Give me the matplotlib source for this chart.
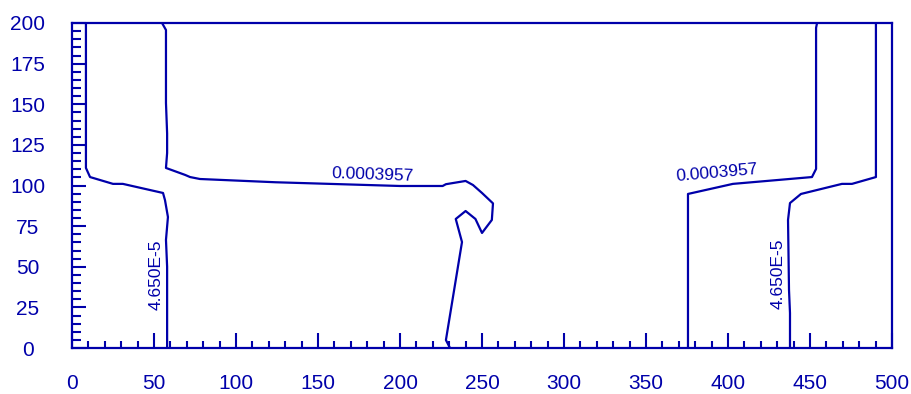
import matplotlib
matplotlib.use("Agg")
import matplotlib.pyplot as plt
from matplotlib.ticker import MultipleLocator

# contour lines (data coordinates)
line_a_x = [8.5, 8.5, 11, 25, 31, 55.5, 56.7, 58.5, 57.3, 58, 58]
line_a_y = [200, 110.8, 105.2, 101, 101, 95.4, 91, 80.6, 66.5, 50, 0]

line_b_x = [54.9, 57.3, 57.3, 58, 58, 57.3, 69, 72, 78, 124, 200, 226, 228, 240,
            244.5, 250, 256.7, 256, 250, 246, 240, 234, 237.8, 228, 230.5]
line_b_y = [200, 195.7, 150.8, 132, 120, 110.8, 106.5, 105.2, 104, 102, 99.7, 99.7,
            100.8, 102.8, 100.3, 95.4, 89, 78.8, 70.8, 79.4, 84.3, 79.4, 65.2, 4.9, 0]

line_c_x = [375.6, 375.6, 403, 451.2, 453.7, 453.7, 454.3]
line_c_y = [0, 94.8, 101, 105.2, 110.2, 197, 200]

line_d_x = [437.8, 437.8, 437.2, 436.6, 437.8, 444.5, 469.5, 475.6, 490.2, 490.2]
line_d_y = [0, 21.5, 35.7, 78.8, 89.2, 94.8, 101, 101, 105.2, 200]

labels = ["4.650E-5", "0.0003957", "0.0003957", "4.650E-5"]
label_x = [51, 183, 393, 430.5]
label_y = [45, 106.5, 107.7, 45.5]
label_rot = [90, -2, 5, 90]

xticks = list(range(0, 501, 50))
yticks = list(range(0, 201, 25))

blue = "#0000AA"
plt.rcParams["font.family"] = ["Liberation Sans", "DejaVu Sans"]

fig = plt.figure(figsize=(9.12, 3.94), dpi=100)
ax = fig.add_axes([72 / 912, 46 / 394, 820 / 912, 325 / 394])

for xs, ys in [(line_a_x, line_a_y), (line_b_x, line_b_y),
               (line_c_x, line_c_y), (line_d_x, line_d_y)]:
    ax.plot(xs, ys, color=blue, lw=1.6, solid_joinstyle="round")

for t, x, y, r in zip(labels, label_x, label_y, label_rot):
    ax.text(x, y, t, color=blue, fontsize=12.5, rotation=r,
            ha="center", va="center", rotation_mode="anchor")

ax.set_xlim(0, 500)
ax.set_ylim(0, 200)
ax.set_xticks(xticks)
ax.set_yticks(yticks)
ax.xaxis.set_minor_locator(MultipleLocator(10))
ax.yaxis.set_minor_locator(MultipleLocator(5))

for s in ax.spines.values():
    s.set_color(blue)
    s.set_linewidth(1.6)

ax.tick_params(axis="x", which="major", direction="in", length=11, width=1.5,
               color=blue, labelcolor=blue, labelsize=15, pad=19)
ax.tick_params(axis="x", which="minor", direction="in", length=5, width=1.5, color=blue)
ax.tick_params(axis="y", which="major", direction="in", length=10, width=1.5,
               color=blue, labelcolor=blue, labelsize=15, pad=32)
ax.tick_params(axis="y", which="minor", direction="in", length=6.5, width=1.5, color=blue)
for lab in ax.get_yticklabels():
    lab.set_ha("center")

fig.savefig("out.png", dpi=100)
